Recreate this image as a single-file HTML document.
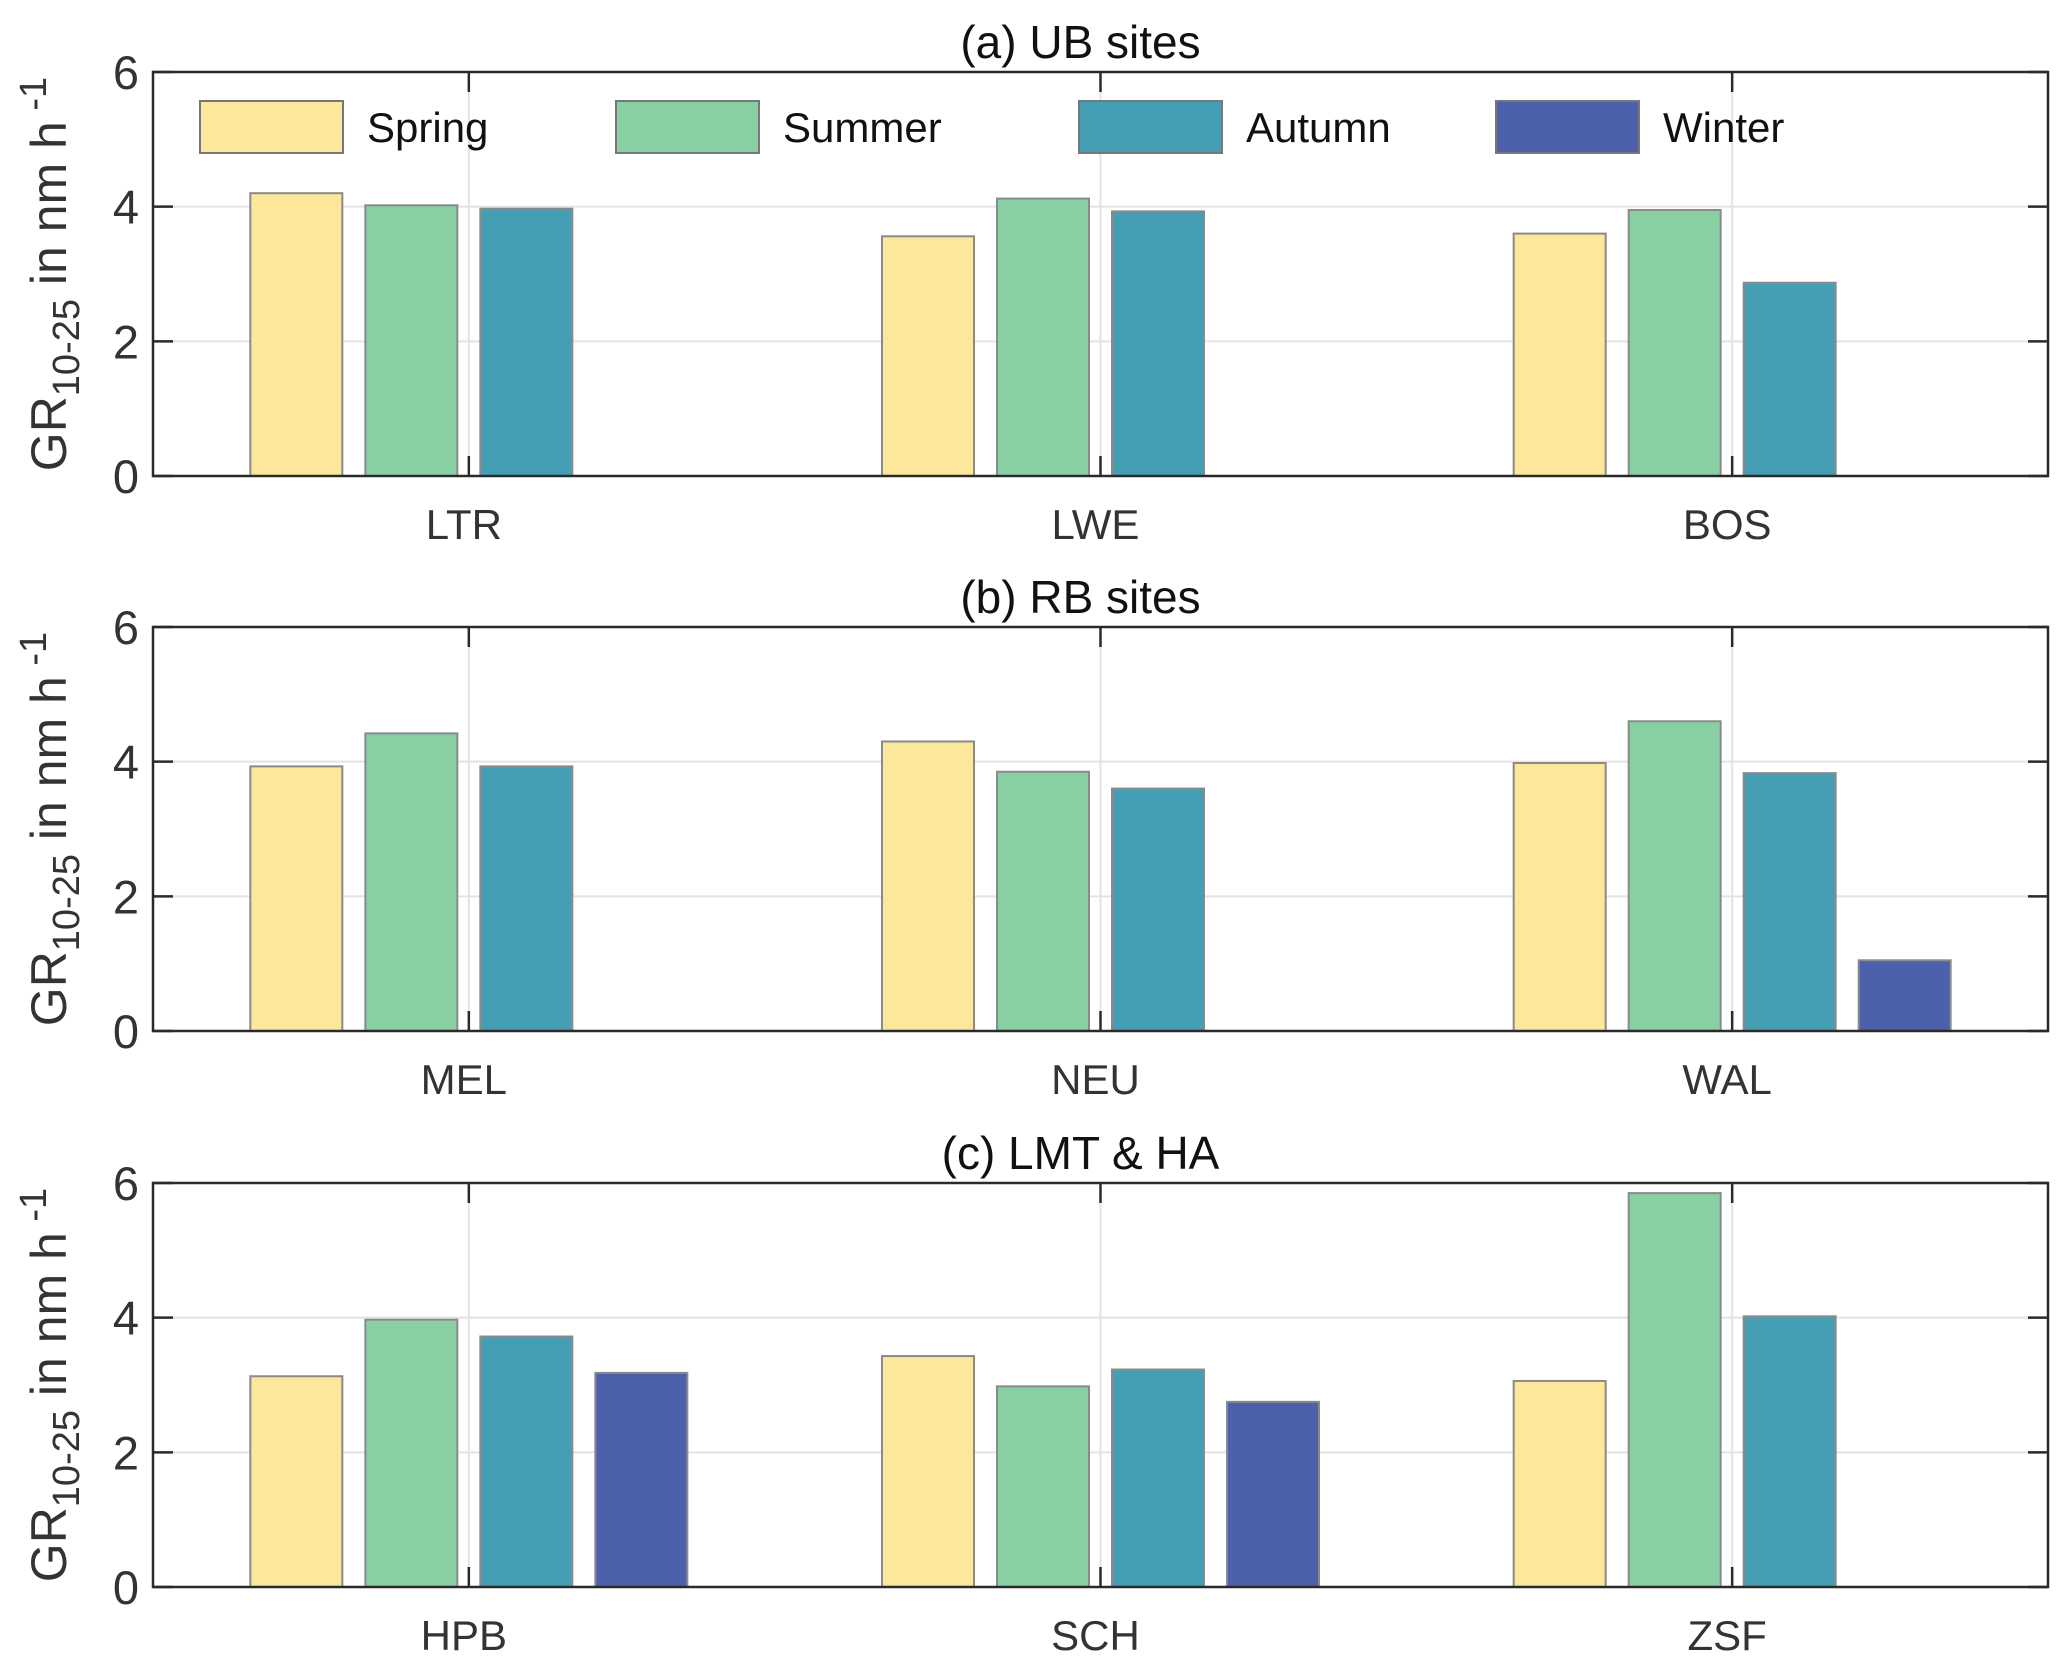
<!DOCTYPE html>
<html><head><meta charset="utf-8"><style>
body{margin:0;background:#fff;}
svg text{font-family:"Liberation Sans",sans-serif;fill:#333;}
</style></head><body>
<svg id="chart" width="2067" height="1667" viewBox="0 0 2067 1667" xmlns="http://www.w3.org/2000/svg"></svg>
<script>
const seasons = ["Spring","Summer","Autumn","Winter"];
const colors = ["#FCE79A","#88D0A4","#469EB4","#4D60AC"];
const panelTitles = ["(a) UB sites","(b) RB sites","(c) LMT & HA"];
const sitesA = ["LTR","LWE","BOS"];
const sitesB = ["MEL","NEU","WAL"];
const sitesC = ["HPB","SCH","ZSF"];
const valuesA = [[4.2,4.02,3.97,null],[3.56,4.12,3.93,null],[3.6,3.95,2.87,null]];
const valuesB = [[3.93,4.42,3.93,null],[4.3,3.85,3.6,null],[3.98,4.6,3.83,1.05]];
const valuesC = [[3.13,3.97,3.72,3.18],[3.43,2.98,3.23,2.75],[3.06,5.85,4.02,null]];
const yTicks = [0,2,4,6];

const svg = document.getElementById('chart');
const NS = "http://www.w3.org/2000/svg";
function mk(tag, attrs, parent){const e=document.createElementNS(NS,tag);for(const k in attrs)e.setAttribute(k,attrs[k]);(parent||svg).appendChild(e);return e;}

const L=153, R=2048, H=404;
const tops=[72,627,1183];
const xScale = i => L + (i+0.5)*(R-L)/3;
const barW=92, step=115;
const panels=[[sitesA,valuesA],[sitesB,valuesB],[sitesC,valuesC]];

panels.forEach(([sites,vals],p)=>{
  const T=tops[p], B=T+H;
  const y = v => B - v/6*H;
  const g = mk('g',{});
  
  
  yTicks.slice(1,3).forEach(t=>{
    const gl=mk('line',{x1:L,x2:R,y1:y(t),y2:y(t),stroke:'#e3e3e3','stroke-width':2},g);
    
    
  });
  sites.forEach((s,i)=>{
    const gl=mk('line',{x1:xScale(i),x2:xScale(i),y1:T,y2:B,stroke:'#e3e3e3','stroke-width':2},g);
    
    
  });
  vals.forEach((row,i)=>{
    row.forEach((v,k)=>{
      if(v==null) return;
      const cx = xScale(i) + (k-1.5)*step;
      const r=mk('rect',{x:cx-barW/2,y:y(v),width:barW,height:B-y(v),fill:colors[k],stroke:'#8a8a8a','stroke-width':2},g);
      
      
    });
  });
  const box=mk('rect',{x:L,y:T,width:R-L,height:H,fill:'none',stroke:'#2a2a2a','stroke-width':2.5},g);
  
  
  yTicks.forEach(t=>{
    mk('line',{x1:L,x2:L+20,y1:y(t),y2:y(t),stroke:'#2a2a2a','stroke-width':2.5},g);
    mk('line',{x1:R-20,x2:R,y1:y(t),y2:y(t),stroke:'#2a2a2a','stroke-width':2.5},g);
    const tl=mk('text',{x:L-14,y:y(t)+17,'text-anchor':'end','font-size':47},g);
    tl.textContent=t;
    
    
  });
  sites.forEach((s,i)=>{
    mk('line',{x1:xScale(i),x2:xScale(i),y1:B,y2:B-20,stroke:'#2a2a2a','stroke-width':2.5},g);
    mk('line',{x1:xScale(i),x2:xScale(i),y1:T,y2:T+20,stroke:'#2a2a2a','stroke-width':2.5},g);
    const xl=mk('text',{x:xScale(i)-5,y:B+63,'text-anchor':'middle','font-size':42},g);
    xl.textContent=s;
    
    
  });
  const tt=mk('text',{x:(L+R)/2-20,y:T-14,'text-anchor':'middle','font-size':46,style:'fill:#111'},g);
  tt.textContent=panelTitles[p];
  
  
  const yl=mk('text',{transform:`translate(66,${(T+B)/2}) rotate(-90)`,'text-anchor':'middle','font-size':50},g);
  yl.innerHTML='GR<tspan font-size="38" dy="13">10-25</tspan><tspan dy="-13"> in nm h</tspan><tspan font-size="38" dy="-20"> -1</tspan>';
  
  
});

const legX=[200,616,1079,1496];
seasons.forEach((s,k)=>{
  const lg=mk('g',{});
  
  
  mk('rect',{x:legX[k],y:101,width:143,height:52,fill:colors[k],stroke:'#777','stroke-width':2},lg);
  const t=mk('text',{x:legX[k]+167,y:142,'font-size':42,style:'fill:#111'},lg);
  t.textContent=s;
});
</script>
</body></html>
